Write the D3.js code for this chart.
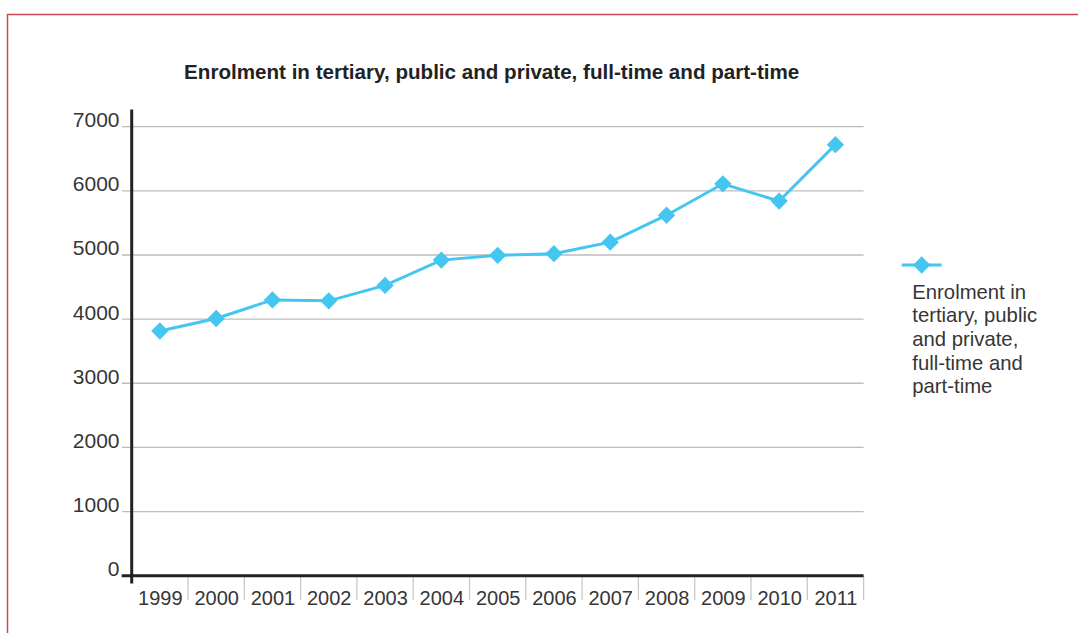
<!DOCTYPE html>
<html>
<head>
<meta charset="utf-8">
<script src="https://cdn.jsdelivr.net/npm/d3@7"></script>
<style>
  html, body { margin: 0; padding: 0; background: #fff; }
  svg { display: block; font-family: "Liberation Sans", Arial, Helvetica, sans-serif; }
</style>
</head>
<body>
<svg id="chart" width="1078" height="633"></svg>
<script>
const title = "Enrolment in tertiary, public and private, full-time and part-time";
const years = ["1999","2000","2001","2002","2003","2004","2005","2006","2007","2008","2009","2010","2011"];
const enrolment = [3815, 4010, 4300, 4285, 4525, 4920, 4995, 5020, 5200, 5620, 6110, 5840, 6720];
const yTicks = [0, 1000, 2000, 3000, 4000, 5000, 6000, 7000];
const legendLines = ["Enrolment in", "tertiary, public", "and private,", "full-time and", "part-time"];

const svg = d3.select("#chart");
const color = "#45c6f1";
const textColor = "#363636";

// frame
svg.append("rect").attr("x", 7.5).attr("y", 14.5).attr("width", 1090).attr("height", 640)
  .attr("fill", "none").attr("stroke", "#cc4a55").attr("stroke-width", 1.5);

const plotLeft = 131.7, plotRight = 863.6, plotTop = 126.7, plotBottom = 575.7;
const x = d3.scaleBand().domain(years).range([plotLeft, plotRight]).padding(0);
const y = d3.scaleLinear().domain([0, 7000]).range([plotBottom, plotTop]);

// title
svg.append("text").attr("x", 491.7).attr("y", 78.5).attr("text-anchor", "middle")
  .attr("font-size", 20.6).attr("font-weight", "bold").attr("fill", "#222").text(title);

// gridlines
svg.append("g").selectAll("line").data(yTicks.filter(d => d > 0)).join("line")
  .attr("x1", 122).attr("x2", plotRight).attr("y1", d => y(d)).attr("y2", d => y(d))
  .attr("stroke", "#bdbdbd").attr("stroke-width", 1.3);

// y labels
svg.append("g").selectAll("text").data(yTicks).join("text")
  .attr("x", 119.5).attr("y", d => y(d) + 0.5).attr("text-anchor", "end")
  .attr("font-size", 21).attr("fill", textColor).text(d => d);

// category tick marks
const bounds = years.map(d => x(d)).concat([plotRight]);
svg.append("g").selectAll("line").data(bounds.slice(1)).join("line")
  .attr("x1", d => d).attr("x2", d => d).attr("y1", plotBottom).attr("y2", 600)
  .attr("stroke", "#c8c8c8").attr("stroke-width", 1.3);

// x labels
svg.append("g").selectAll("text").data(years).join("text")
  .attr("x", d => x(d) + x.bandwidth() / 2 + 0.5).attr("y", 604.5).attr("text-anchor", "middle")
  .attr("font-size", 20).attr("fill", textColor).text(d => d);

// axes
svg.append("line").attr("x1", 121.7).attr("x2", plotRight).attr("y1", plotBottom).attr("y2", plotBottom)
  .attr("stroke", "#222").attr("stroke-width", 3);
svg.append("line").attr("x1", plotLeft).attr("x2", plotLeft).attr("y1", 109.5).attr("y2", 583.5)
  .attr("stroke", "#222").attr("stroke-width", 3);

// line
const line = d3.line().x((d, i) => x(years[i]) + x.bandwidth() / 2).y(d => y(d));
svg.append("path").datum(enrolment).attr("d", line).attr("fill", "none")
  .attr("stroke", color).attr("stroke-width", 3);

const diamond = d3.symbol().type(d3.symbolSquare).size(150);
svg.append("g").selectAll("path").data(enrolment).join("path")
  .attr("d", diamond)
  .attr("transform", (d, i) => `translate(${x(years[i]) + x.bandwidth() / 2},${y(d)}) rotate(45)`)
  .attr("fill", color);

// legend
svg.append("line").attr("x1", 901.7).attr("x2", 941.7).attr("y1", 265).attr("y2", 265)
  .attr("stroke", color).attr("stroke-width", 3);
svg.append("path").attr("d", diamond).attr("transform", "translate(921.7,265) rotate(45)").attr("fill", color);
svg.append("g").selectAll("text").data(legendLines).join("text")
  .attr("x", 912.3).attr("y", (d, i) => 298.5 + i * 23.7)
  .attr("font-size", 20.3).attr("fill", textColor).text(d => d);
</script>
</body>
</html>
